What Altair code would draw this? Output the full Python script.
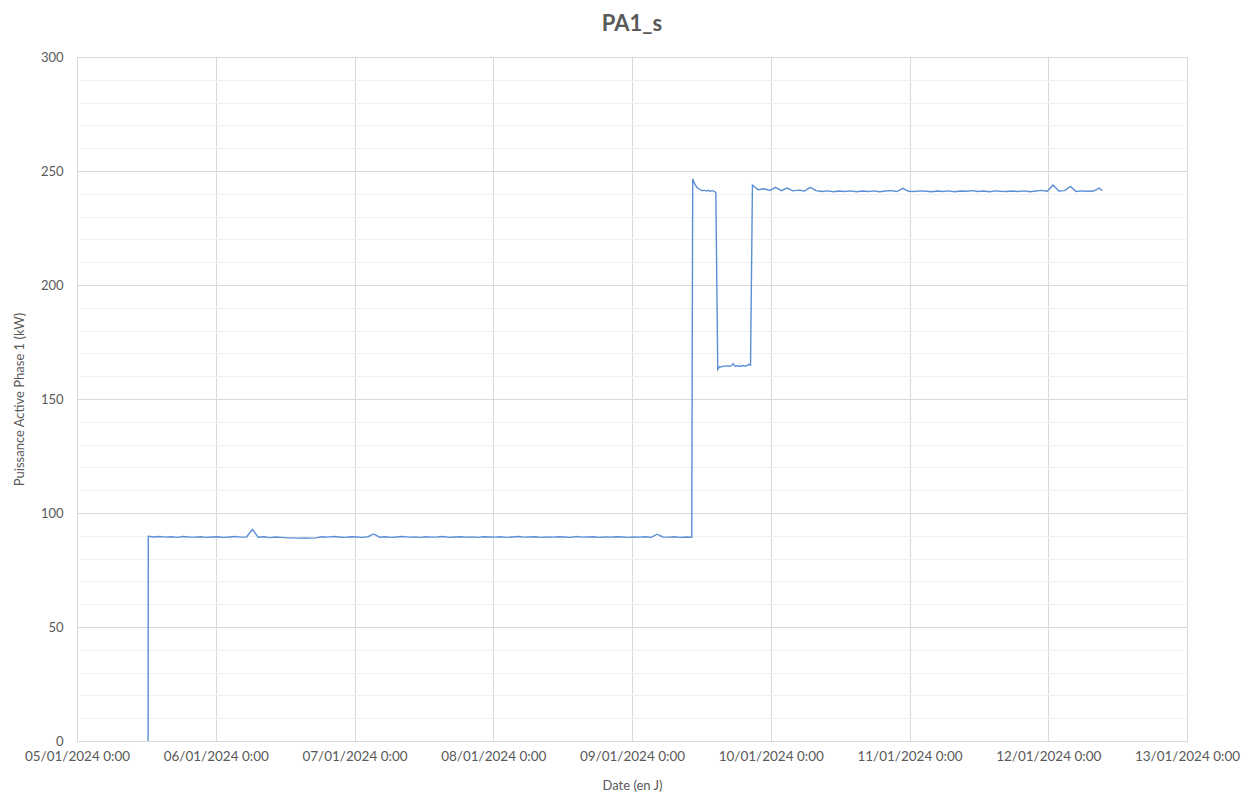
import altair as alt
import pandas as pd

# --- data ---
seg0_time = ["2024-01-05 12:18"]
seg0_vals = [0.0]

seg1_start, seg1_freq = "2024-01-05 12:20", "h"
seg1_vals = [
    89.8, 89.5, 89.7, 89.4, 89.6, 89.3, 89.7, 89.5, 89.4, 89.6, 89.3, 89.5,
    89.6, 89.3, 89.5, 89.7, 89.4, 89.5, 92.8, 89.4, 89.6, 89.2, 89.5, 89.3,
    89.1, 89.1, 89.0, 89.1, 89.0, 89.1, 89.6, 89.4, 89.7, 89.5, 89.3, 89.6,
    89.5, 89.3, 89.6, 90.8, 89.4, 89.6, 89.3, 89.5, 89.7, 89.4, 89.5, 89.3,
    89.6, 89.4, 89.5, 89.7, 89.3, 89.5, 89.6, 89.4, 89.5, 89.3, 89.6, 89.5,
    89.4, 89.6, 89.3, 89.5, 89.7, 89.4, 89.5, 89.6, 89.3, 89.5, 89.4, 89.6,
    89.5, 89.3, 89.7, 89.4, 89.5, 89.6, 89.3, 89.5, 89.4, 89.6, 89.5, 89.3,
    89.5, 89.4, 89.6, 89.3, 90.7, 89.5, 89.4, 89.6, 89.3, 89.5, 89.4,
]

seg2_start, seg2_freq = "2024-01-09 10:30", "20min"
seg2_vals = [246.5, 244.5, 243.0, 242.2, 241.8, 241.3, 241.6, 241.2, 241.5,
             241.1, 241.4, 241.2, 240.5]

seg3_start, seg3_freq = "2024-01-09 14:50", "20min"
seg3_vals = [163.0, 164.2, 164.0, 164.5, 164.3, 164.6, 164.4, 164.5, 165.5,
             164.3, 164.6, 164.4, 164.5, 164.7, 164.5, 164.6, 165.2, 164.8]

seg4_start, seg4_freq = "2024-01-09 20:50", "h"
seg4_vals = [
    243.8, 241.8, 242.2, 241.5,
    242.8, 241.4, 242.5, 241.3, 241.6, 241.2, 242.8, 241.4, 241.0, 241.3, 240.9, 241.2,
    241.0, 241.3, 240.9, 241.2, 241.0, 241.3, 240.9, 241.2, 241.4, 241.0, 242.4, 241.1,
    241.0, 241.3, 241.1, 240.9, 241.2, 241.0, 241.3, 240.9, 241.2, 241.1, 241.4, 241.0,
    241.2, 240.9, 241.3, 241.1, 241.0, 241.2, 241.0, 241.3, 240.9, 241.2, 241.5, 241.1,
    243.8, 241.2, 241.4, 243.2, 241.0, 241.3, 241.1, 241.2, 242.5,
]
seg5_time = ["2024-01-12 09:20"]
seg5_vals = [241.3]

times = list(pd.to_datetime(seg0_time))
vals = list(seg0_vals)
for start, freq, v in [(seg1_start, seg1_freq, seg1_vals), (seg2_start, seg2_freq, seg2_vals),
                       (seg3_start, seg3_freq, seg3_vals), (seg4_start, seg4_freq, seg4_vals)]:
    times += list(pd.date_range(start, periods=len(v), freq=freq))
    vals += v
times += list(pd.to_datetime(seg5_time))
vals += seg5_vals

df = pd.DataFrame({"t": [t.strftime("%Y-%m-%dT%H:%M:%S") for t in times], "v": vals})

day_ticks = [alt.DateTime(year=2024, month=1, date=d) for d in range(5, 14)]
y_ticks = list(range(0, 301, 10))

FONT = "Lato"
GREY = "#595959"

chart = alt.Chart(df).mark_line(color="#5B8FD4", strokeWidth=1.4).encode(
    x=alt.X("t:T", title="Date (en J)",
            scale=alt.Scale(domain=[day_ticks[0], day_ticks[-1]], nice=False),
            axis=alt.Axis(values=day_ticks, format="%d/%m/%Y %-H:%M", labelAngle=0,
                          labelOverlap=False, labelFlush=False, labelBound=False,
                          grid=True, gridColor="#d9d9d9", domainColor="#d9d9d9",
                          ticks=False, labelPadding=8, titlePadding=17,
                          labelFontSize=13.5)),
    y=alt.Y("v:Q", title="Puissance Active Phase 1 (kW)",
            scale=alt.Scale(domain=[0, 300], nice=False),
            axis=alt.Axis(values=y_ticks, labelExpr="datum.value % 50 === 0 ? datum.label : ''",
                          labelOverlap=False, grid=True,
                          gridColor={"condition": {"test": "datum.value % 50 === 0", "value": "#d9d9d9"},
                                     "value": "#f0f0f0"},
                          domain=False, ticks=False, labelPadding=14, titlePadding=14)),
).properties(
    width=1110, height=684,
    title=alt.TitleParams("PA1_s", fontSize=22, fontWeight="bold", color=GREY, font=FONT, offset=15),
).configure_axis(
    labelFont=FONT, titleFont=FONT, labelFontSize=13, titleFontSize=13,
    labelColor=GREY, titleColor=GREY, titleFontWeight="normal",
).configure_view(stroke=None)

chart.save("out.html", embed_options={"renderer": "svg", "actions": False})
